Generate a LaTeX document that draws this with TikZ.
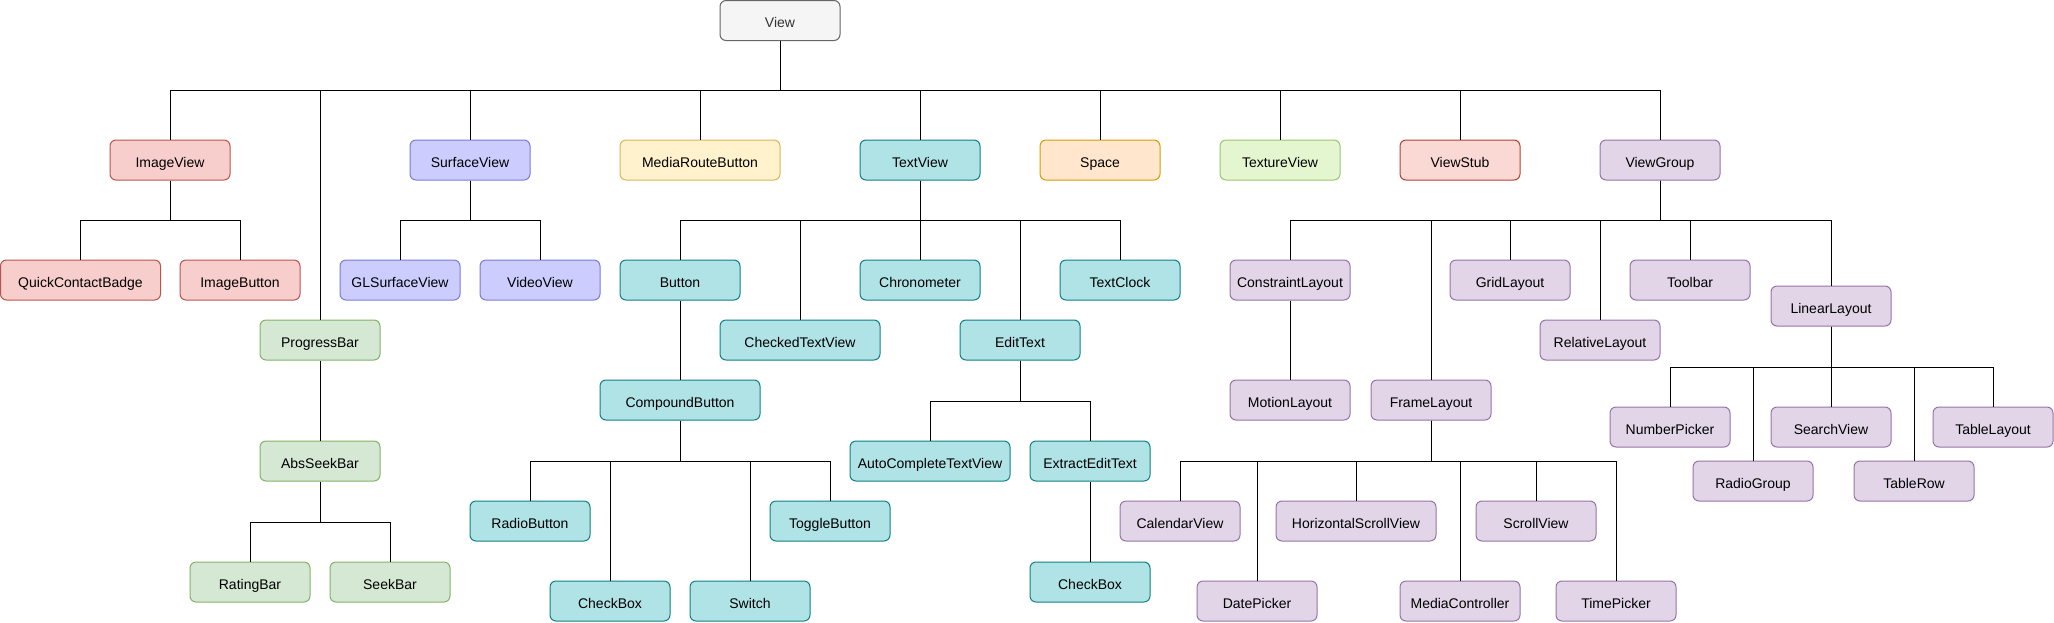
\documentclass[tikz,border=0pt]{standalone}
\usepackage{fontspec}
\setmainfont{Liberation Sans}
\definecolor{grayF}{HTML}{F5F5F5}\definecolor{grayD}{HTML}{666666}\definecolor{grayT}{HTML}{333333}
\definecolor{redF}{HTML}{F8CECC}\definecolor{redD}{HTML}{B85450}
\definecolor{blueF}{HTML}{CCCCFF}\definecolor{blueD}{HTML}{7A7AD8}
\definecolor{yelF}{HTML}{FFF2CC}\definecolor{yelD}{HTML}{D6B656}
\definecolor{tealF}{HTML}{B0E3E6}\definecolor{tealD}{HTML}{0E8088}
\definecolor{oraF}{HTML}{FFE6CC}\definecolor{oraD}{HTML}{D79B00}
\definecolor{lgrF}{HTML}{E4F6D0}\definecolor{lgrD}{HTML}{9AC46E}
\definecolor{salF}{HTML}{FAD9D5}\definecolor{salD}{HTML}{AE4132}
\definecolor{purF}{HTML}{E1D5E7}\definecolor{purD}{HTML}{9673A6}
\definecolor{grnF}{HTML}{D5E8D4}\definecolor{grnD}{HTML}{82B366}
\begin{document}
\begin{tikzpicture}[x=1pt,y=-1pt,
  box/.style={rectangle, rounded corners=6pt, minimum width=120pt, minimum height=40pt,
    line width=1pt, inner sep=0pt, text height=14pt, text depth=0pt,
    font=\fontsize{14}{16}\selectfont, text=black},
  wide/.style={minimum width=160pt},
  gray/.style={box, fill=grayF, draw=grayD, text=grayT},
  red/.style={box, fill=redF, draw=redD},
  blue/.style={box, fill=blueF, draw=blueD},
  yel/.style={box, fill=yelF, draw=yelD},
  teal/.style={box, fill=tealF, draw=tealD},
  ora/.style={box, fill=oraF, draw=oraD},
  lgr/.style={box, fill=lgrF, draw=lgrD},
  sal/.style={box, fill=salF, draw=salD},
  pur/.style={box, fill=purF, draw=purD},
  grn/.style={box, fill=grnF, draw=grnD},
  edge/.style={draw=black, line width=1pt}]
\useasboundingbox (0,0) rectangle (2054,622);
% root
\node[gray] (View) at (780,20.5) {View};
% row 1
\node[red] (ImageView) at (170,160) {ImageView};
\node[blue] (SurfaceView) at (470,160) {SurfaceView};
\node[yel,wide] (MediaRouteButton) at (700,160) {MediaRouteButton};
\node[teal] (TextView) at (920,160) {TextView};
\node[ora] (Space) at (1100,160) {Space};
\node[lgr] (TextureView) at (1280,160) {TextureView};
\node[sal] (ViewStub) at (1460,160) {ViewStub};
\node[pur] (ViewGroup) at (1660,160) {ViewGroup};
% ImageView subtree
\node[red,wide] (QuickContactBadge) at (80.5,280) {QuickContactBadge};
\node[red] (ImageButton) at (240,280) {ImageButton};
% ProgressBar subtree
\node[grn] (ProgressBar) at (320,340) {ProgressBar};
\node[grn] (AbsSeekBar) at (320,461) {AbsSeekBar};
\node[grn] (RatingBar) at (250,582) {RatingBar};
\node[grn] (SeekBar) at (390,582) {SeekBar};
% SurfaceView subtree
\node[blue] (GLSurfaceView) at (400,280) {GLSurfaceView};
\node[blue] (VideoView) at (540,280) {VideoView};
% TextView subtree
\node[teal] (Button) at (680,280) {Button};
\node[teal,wide] (CheckedTextView) at (800,340) {CheckedTextView};
\node[teal] (Chronometer) at (920,280) {Chronometer};
\node[teal] (EditText) at (1020,340) {EditText};
\node[teal] (TextClock) at (1120,280) {TextClock};
\node[teal,wide] (CompoundButton) at (680,400) {CompoundButton};
\node[teal] (RadioButton) at (530,521) {RadioButton};
\node[teal] (CheckBoxA) at (610,601) {CheckBox};
\node[teal] (Switch) at (750,601) {Switch};
\node[teal] (ToggleButton) at (830,521) {ToggleButton};
\node[teal,wide] (AutoCompleteTextView) at (930,461) {AutoCompleteTextView};
\node[teal] (ExtractEditText) at (1090,461) {ExtractEditText};
\node[teal] (CheckBoxB) at (1090,582) {CheckBox};
% ViewGroup subtree
\node[pur] (ConstraintLayout) at (1290,280) {ConstraintLayout};
\node[pur] (MotionLayout) at (1290,400) {MotionLayout};
\node[pur] (FrameLayout) at (1431,400) {FrameLayout};
\node[pur] (GridLayout) at (1510,280) {GridLayout};
\node[pur] (RelativeLayout) at (1600,340) {RelativeLayout};
\node[pur] (Toolbar) at (1690,280) {Toolbar};
\node[pur] (LinearLayout) at (1831,306) {LinearLayout};
\node[pur] (CalendarView) at (1180,521) {CalendarView};
\node[pur] (DatePicker) at (1257,601) {DatePicker};
\node[pur,wide] (HorizontalScrollView) at (1356,521) {HorizontalScrollView};
\node[pur] (MediaController) at (1460,601) {MediaController};
\node[pur] (ScrollView) at (1536,521) {ScrollView};
\node[pur] (TimePicker) at (1616,601) {TimePicker};
\node[pur] (NumberPicker) at (1670,427) {NumberPicker};
\node[pur] (RadioGroup) at (1753,481) {RadioGroup};
\node[pur] (SearchView) at (1831,427) {SearchView};
\node[pur] (TableRow) at (1914,481) {TableRow};
\node[pur] (TableLayout) at (1993,427) {TableLayout};
% connectors
\foreach \c in {ImageView,ProgressBar,SurfaceView,MediaRouteButton,TextView,Space,TextureView,ViewStub,ViewGroup}
  \draw[edge] (View.south) -- (View.south |- 0,90) -| (\c.north);
\foreach \c in {QuickContactBadge,ImageButton}
  \draw[edge] (ImageView.south) -- (ImageView.south |- 0,220) -| (\c.north);
\foreach \c in {GLSurfaceView,VideoView}
  \draw[edge] (SurfaceView.south) -- (SurfaceView.south |- 0,220) -| (\c.north);
\foreach \c in {Button,CheckedTextView,Chronometer,EditText,TextClock}
  \draw[edge] (TextView.south) -- (TextView.south |- 0,220) -| (\c.north);
\draw[edge] (Button.south) -- (CompoundButton.north);
\foreach \c in {RadioButton,CheckBoxA,Switch,ToggleButton}
  \draw[edge] (CompoundButton.south) -- (CompoundButton.south |- 0,461) -| (\c.north);
\foreach \c in {AutoCompleteTextView,ExtractEditText}
  \draw[edge] (EditText.south) -- (EditText.south |- 0,401) -| (\c.north);
\draw[edge] (ExtractEditText.south) -- (CheckBoxB.north);
\draw[edge] (ProgressBar.south) -- (AbsSeekBar.north);
\foreach \c in {RatingBar,SeekBar}
  \draw[edge] (AbsSeekBar.south) -- (AbsSeekBar.south |- 0,522) -| (\c.north);
\foreach \c in {ConstraintLayout,FrameLayout,GridLayout,RelativeLayout,Toolbar,LinearLayout}
  \draw[edge] (ViewGroup.south) -- (ViewGroup.south |- 0,220) -| (\c.north);
\draw[edge] (ConstraintLayout.south) -- (MotionLayout.north);
\foreach \c in {CalendarView,DatePicker,HorizontalScrollView,MediaController,ScrollView,TimePicker}
  \draw[edge] (FrameLayout.south) -- (FrameLayout.south |- 0,461) -| (\c.north);
\foreach \c in {NumberPicker,RadioGroup,SearchView,TableRow,TableLayout}
  \draw[edge] (LinearLayout.south) -- (LinearLayout.south |- 0,367) -| (\c.north);
\end{tikzpicture}
\end{document}
